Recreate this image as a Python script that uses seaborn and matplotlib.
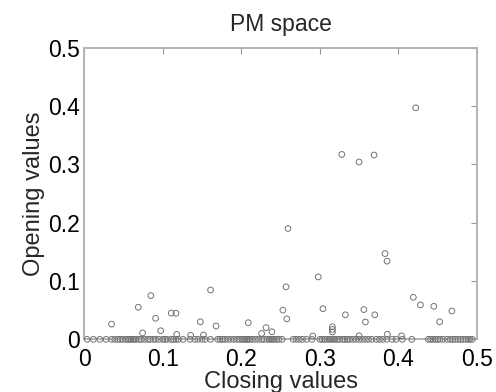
import matplotlib
matplotlib.use("Agg")
import matplotlib.pyplot as plt
import seaborn as sns
import pandas as pd

# Points lifted above the baseline (closing, opening)
raised_closing = [0.422, 0.328, 0.350, 0.369, 0.2595, 0.383, 0.3855, 0.298, 0.257,
                  0.161, 0.085, 0.419, 0.428, 0.445, 0.069, 0.304, 0.356, 0.253,
                  0.468, 0.111, 0.117, 0.3325, 0.370, 0.091, 0.258, 0.148, 0.358,
                  0.4525, 0.209, 0.035, 0.168, 0.316, 0.2316, 0.316, 0.0975, 0.239,
                  0.316, 0.0745, 0.226, 0.386, 0.118, 0.152, 0.1357, 0.291, 0.404,
                  0.350]
raised_opening = [0.397, 0.317, 0.304, 0.316, 0.190, 0.147, 0.134, 0.107, 0.090,
                  0.0845, 0.075, 0.072, 0.059, 0.0566, 0.055, 0.0525, 0.051, 0.050,
                  0.0485, 0.045, 0.0446, 0.042, 0.042, 0.036, 0.035, 0.030, 0.0297,
                  0.030, 0.0285, 0.026, 0.0228, 0.0216, 0.020, 0.017, 0.0147, 0.013,
                  0.0125, 0.011, 0.010, 0.0086, 0.0085, 0.0074, 0.0068, 0.0057, 0.006,
                  0.006]

# Closing values whose opening value is zero
zero_closing = [0.004, 0.012, 0.020, 0.028, 0.035, 0.039, 0.043, 0.046, 0.049, 0.053,
                0.056, 0.058, 0.060, 0.062, 0.064, 0.066, 0.070, 0.073, 0.077, 0.081,
                0.084, 0.088, 0.091, 0.095, 0.100, 0.103, 0.106, 0.111, 0.114, 0.117,
                0.120, 0.126, 0.135, 0.141, 0.145, 0.150, 0.154, 0.161, 0.170, 0.173,
                0.176, 0.179, 0.183, 0.187, 0.191, 0.195, 0.198, 0.201, 0.203, 0.205,
                0.207, 0.209, 0.211, 0.214, 0.218, 0.222, 0.226, 0.229, 0.233, 0.236,
                0.238, 0.240, 0.242, 0.245, 0.248, 0.252, 0.266, 0.270, 0.274, 0.278,
                0.283, 0.290, 0.300, 0.303, 0.306, 0.309, 0.312, 0.314, 0.317, 0.319,
                0.322, 0.325, 0.329, 0.332, 0.335, 0.338, 0.342, 0.346, 0.350, 0.354,
                0.358, 0.362, 0.366, 0.372, 0.376, 0.380, 0.385, 0.392, 0.397, 0.405,
                0.417, 0.438, 0.441, 0.444, 0.447, 0.450, 0.453, 0.457, 0.462, 0.466,
                0.469, 0.472, 0.476, 0.479, 0.482, 0.486, 0.489, 0.491, 0.494]
zero_opening = [0.0] * len(zero_closing)

tick_values = [0, 0.1, 0.2, 0.3, 0.4, 0.5]
tick_labels = ["0", "0.1", "0.2", "0.3", "0.4", "0.5"]

df = pd.DataFrame({
    "closing": raised_closing + zero_closing,
    "opening": raised_opening + zero_opening,
})

sns.set_style("white")
plt.rcParams["font.family"] = ["Liberation Sans", "DejaVu Sans"]

fig = plt.figure(figsize=(4.96, 3.92), dpi=100)
ax = fig.add_axes([0.1694, 0.1344, 0.7923, 0.7439])

sns.scatterplot(data=df, x="closing", y="opening", ax=ax, marker="o",
                s=17, facecolor="none", edgecolor="0.45", linewidth=0.7,
                clip_on=False, zorder=3)

ax.set_xlim(0, 0.5)
ax.set_ylim(0, 0.5)
ax.set_xticks(tick_values)
ax.set_xticklabels(tick_labels)
ax.set_yticks(tick_values)
ax.set_yticklabels(tick_labels)

for sp in ax.spines.values():
    sp.set_visible(True)
    sp.set_color("0.7")
    sp.set_linewidth(1.4)
    sp.set_zorder(2)

ax.tick_params(direction="in", length=4, width=0.8, color="0.6",
               top=True, right=True, labelsize=16.5, labelcolor="black")
ax.tick_params(axis="x", pad=6)
ax.tick_params(axis="y", pad=3)

ax.set_title("PM space", fontsize=16.5, pad=12)
ax.set_xlabel("Closing values", fontsize=17, labelpad=0)
ax.set_ylabel("Opening values", fontsize=17, labelpad=2)

fig.savefig("out.png", dpi=100)
